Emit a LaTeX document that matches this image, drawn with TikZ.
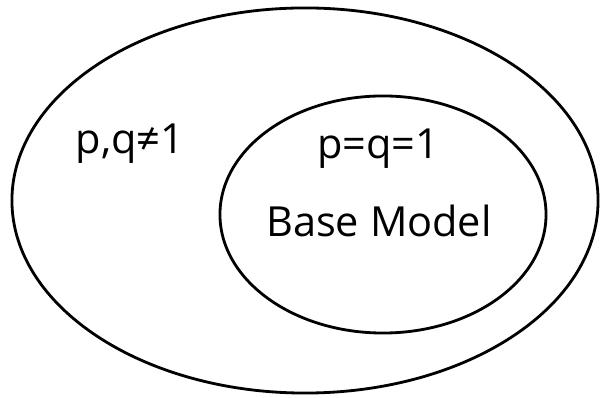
\documentclass[tikz,border=0pt]{standalone}
\usepackage{fontspec}
\setmainfont{Open Sans}
\usetikzlibrary{shapes.geometric}
\begin{document}
\begin{tikzpicture}[x=0.025cm,y=-0.025cm,
  ring/.style={draw=black,line width=2pt,ellipse,inner sep=0pt},
  lbl/.style={font=\fontsize{29.5}{34}\selectfont,inner sep=0pt,anchor=base}]
\useasboundingbox (0,0) rectangle (600,398);
\fill[white] (0,0) rectangle (600,398);
\node[ring,minimum width=14.65cm,minimum height=9.625cm] (outer) at (305,200.5) {};
\node[ring,minimum width=8.15cm,minimum height=5.925cm] (inner) at (383,214.5) {};
\node[lbl] (pq) at (130,154) {p,q≠1};
\node[lbl] (peq) at (378,159) {p=q=1};
\node[lbl] (base) at (379,237) {Base Model};
\end{tikzpicture}
\end{document}
